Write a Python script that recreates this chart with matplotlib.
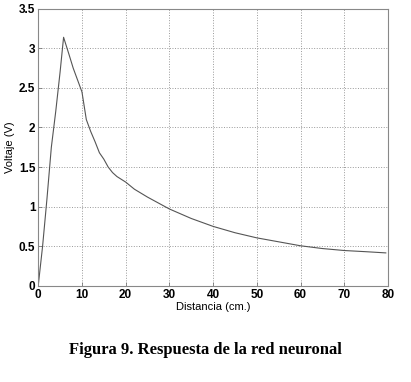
import numpy as np
import matplotlib.pyplot as plt

# Respuesta de la red neuronal
distancia = [0, 1, 2, 3, 4, 5, 5.8, 7, 8, 9, 10, 11, 12, 13, 14, 15, 16, 17, 18,
             20, 22, 25, 30, 35, 40, 45, 50, 55, 60, 65, 70, 75, 79.5]
voltaje = [0, 0.5, 1.1, 1.75, 2.2, 2.7, 3.14, 2.93, 2.75, 2.6, 2.45, 2.1, 1.95,
           1.82, 1.68, 1.6, 1.5, 1.43, 1.38, 1.31, 1.22, 1.12, 0.97, 0.85, 0.75,
           0.67, 0.605, 0.555, 0.505, 0.47, 0.445, 0.43, 0.415]

xticks = np.arange(0, 81, 10)
yticks = np.arange(0, 3.51, 0.5)
ytick_labels = ['0', '0.5', '1', '1.5', '2', '2.5', '3', '3.5']

plt.rcParams['font.family'] = 'Liberation Sans'

fig = plt.figure(figsize=(4.11, 3.82), dpi=100)
ax = fig.add_axes([0.093, 0.252, 0.851, 0.725])

ax.plot(distancia, voltaje, color='#555555', lw=0.8)

ax.set_xlim(0, 80)
ax.set_ylim(0, 3.5)
ax.set_xticks(xticks)
ax.set_yticks(yticks)
ax.set_yticklabels(ytick_labels)
ax.grid(True, linestyle=':', color='#999999', lw=0.7)
ax.tick_params(direction='in', length=3, width=0.6, color='#777777', pad=2,
               labelsize=8.5)
for lbl in ax.get_xticklabels() + ax.get_yticklabels():
    lbl.set_fontweight('bold')
for s in ax.spines.values():
    s.set_color('#888888')
    s.set_linewidth(0.8)

ax.set_xlabel('Distancia (cm.)', fontsize=8, labelpad=1)
ax.set_ylabel('Voltaje (V)', fontsize=8, labelpad=3)

fig.text(0.5, 0.083, 'Figura 9. Respuesta de la red neuronal',
         ha='center', va='center', family='Liberation Serif',
         fontweight='bold', fontsize=12)

fig.savefig('out.png', dpi=100)
